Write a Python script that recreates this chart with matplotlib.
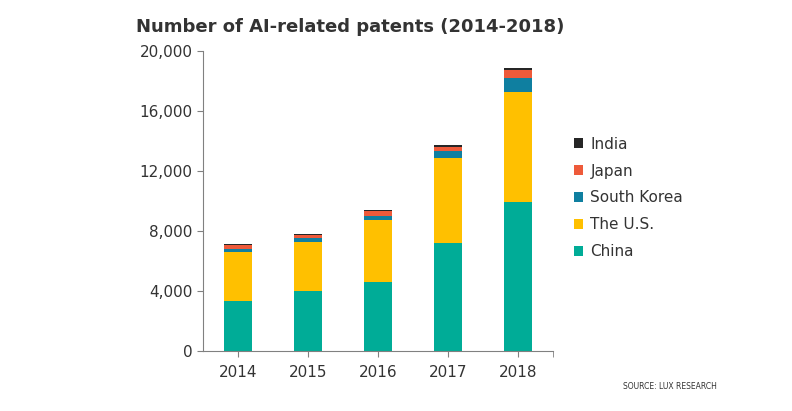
import matplotlib.pyplot as plt
import numpy as np

years = ["2014", "2015", "2016", "2017", "2018"]
china = [3300, 4000, 4600, 7200, 9900]
us = [3300, 3270, 4120, 5640, 7350]
south_korea = [200, 240, 310, 460, 930]
japan = [240, 230, 270, 310, 570]
india = [100, 60, 80, 90, 100]

series = [
    ("China", china, "#00AC97"),
    ("The U.S.", us, "#FFC000"),
    ("South Korea", south_korea, "#0F7FA0"),
    ("Japan", japan, "#EE5A3A"),
    ("India", india, "#262626"),
]

fig = plt.figure(figsize=(7.92, 4.11), dpi=100)
ax = fig.add_axes([0.2563, 0.146, 0.698 - 0.2563, 0.876 - 0.146])

x = np.arange(len(years))
bottom = np.zeros(len(years))
handles = []
for name, vals, col in series:
    b = ax.bar(x, vals, 0.4, bottom=bottom, color=col, label=name)
    handles.append(b)
    bottom += np.array(vals)

ax.set_xlim(-0.5, 4.5)
ax.set_ylim(0, 20000)
ax.set_yticks(range(0, 20001, 4000))
ax.set_yticklabels([f"{v:,}" for v in range(0, 20001, 4000)])
ax.set_xticks(x)
ax.set_xticklabels(years)
ax.set_xticks([4.5], minor=True)

for s in ["top", "right"]:
    ax.spines[s].set_visible(False)
for s in ["left", "bottom"]:
    ax.spines[s].set_color("#808080")
ax.tick_params(axis="both", which="both", colors="#808080", labelcolor="#333333",
               labelsize=11, length=4, direction="out")
ax.tick_params(axis="x", pad=6)

leg = ax.legend(handles[::-1], [s[0] for s in series][::-1], loc="center left",
                bbox_to_anchor=(1.02, 0.51), frameon=False, fontsize=11,
                handlelength=0.6, handleheight=0.6, handletextpad=0.5,
                labelspacing=0.78)
for t in leg.get_texts():
    t.set_color("#333333")

fig.text(0.442, 0.934, "Number of AI-related patents (2014-2018)", ha="center",
         va="center", fontsize=13, fontweight="bold", color="#333333")
fig.text(0.905, 0.06, "SOURCE: LUX RESEARCH", ha="right", va="center",
         fontsize=5.5, color="#333333")

fig.savefig("out.png", dpi=100)
